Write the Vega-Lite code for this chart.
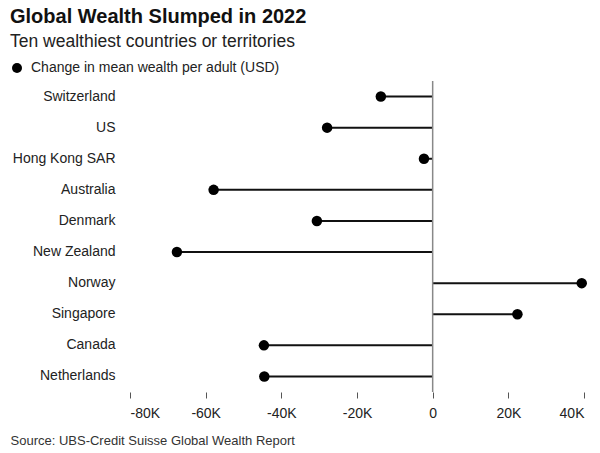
{
  "$schema": "https://vega.github.io/schema/vega-lite/v6.json",
  "width": 454,
  "height": 311,
  "padding": {"left": 10, "top": 6, "right": 5, "bottom": 5},
  "config": {"view": {"stroke": null}, "font": "Liberation Sans"},
  "title": {
    "text": "Global Wealth Slumped in 2022",
    "subtitle": "Ten wealthiest countries or territories",
    "anchor": "start",
    "frame": "bounds",
    "font": "Liberation Sans",
    "fontSize": 20,
    "fontWeight": "bold",
    "color": "#111111",
    "subtitleFont": "Liberation Sans",
    "subtitleFontSize": 17.5,
    "subtitleColor": "#222222",
    "subtitlePadding": 6,
    "offset": 11
  },
  "data": {
    "values": [
      {"country": "Switzerland", "value": -13700, "series": "Change in mean wealth per adult (USD)"},
      {"country": "US", "value": -27900, "series": "Change in mean wealth per adult (USD)"},
      {"country": "Hong Kong SAR", "value": -2300, "series": "Change in mean wealth per adult (USD)"},
      {"country": "Australia", "value": -57900, "series": "Change in mean wealth per adult (USD)"},
      {"country": "Denmark", "value": -30600, "series": "Change in mean wealth per adult (USD)"},
      {"country": "New Zealand", "value": -67600, "series": "Change in mean wealth per adult (USD)"},
      {"country": "Norway", "value": 39400, "series": "Change in mean wealth per adult (USD)"},
      {"country": "Singapore", "value": 22400, "series": "Change in mean wealth per adult (USD)"},
      {"country": "Canada", "value": -44600, "series": "Change in mean wealth per adult (USD)"},
      {"country": "Netherlands", "value": -44500, "series": "Change in mean wealth per adult (USD)"}
    ]
  },
  "layer": [
    {
      "mark": {"type": "rule", "color": "#111111", "strokeWidth": 2},
      "encoding": {
        "y": {
          "field": "country",
          "type": "nominal",
          "sort": null,
          "title": null,
          "axis": {
            "domain": false,
            "ticks": false,
            "tickSize": 0,
            "labelPadding": 15,
            "labelFontSize": 14,
            "labelColor": "#222222",
            "labelFont": "Liberation Sans",
            "minExtent": 120
          }
        },
        "x": {
          "field": "value",
          "type": "quantitative",
          "scale": {"domain": [-80000, 40000], "nice": false, "zero": false},
          "title": "Source: UBS-Credit Suisse Global Wealth Report",
          "axis": {
            "values": [-80000, -60000, -40000, -20000, 0, 20000, 40000],
            "labelExpr": "datum.value == 0 ? '0' : (datum.value / 1000) + 'K'",
            "domain": false,
            "grid": false,
            "tickSize": 6,
            "tickColor": "#555555",
            "labelPadding": 8,
            "labelFontSize": 14,
            "labelColor": "#222222",
            "labelFont": "Liberation Sans",
            "titleFont": "Liberation Sans",
            "titleFontSize": 13,
            "titleFontWeight": "normal",
            "titleColor": "#333333",
            "titleAlign": "left",
            "titleBaseline": "middle",
            "titleX": -120,
            "titleY": 48
          }
        },
        "x2": {"datum": 0}
      }
    },
    {
      "data": {"values": [{"zero": 0}]},
      "mark": {"type": "rule", "color": "#888888", "strokeWidth": 1.5},
      "encoding": {
        "x": {"field": "zero", "type": "quantitative"}
      }
    },
    {
      "mark": {"type": "point", "filled": true, "opacity": 1, "size": 110, "shape": "circle"},
      "encoding": {
        "y": {"field": "country", "type": "nominal", "sort": null},
        "x": {"field": "value", "type": "quantitative"},
        "color": {
          "field": "series",
          "type": "nominal",
          "scale": {"range": ["#000000"]},
          "legend": {
            "title": null,
            "orient": "none",
            "legendX": -120,
            "legendY": -20,
            "padding": 0,
            "symbolSize": 100,
            "symbolType": "circle",
            "labelOffset": 7,
            "labelLimit": 400,
            "labelFontSize": 14,
            "labelColor": "#222222",
            "labelFont": "Liberation Sans"
          }
        }
      }
    }
  ]
}
